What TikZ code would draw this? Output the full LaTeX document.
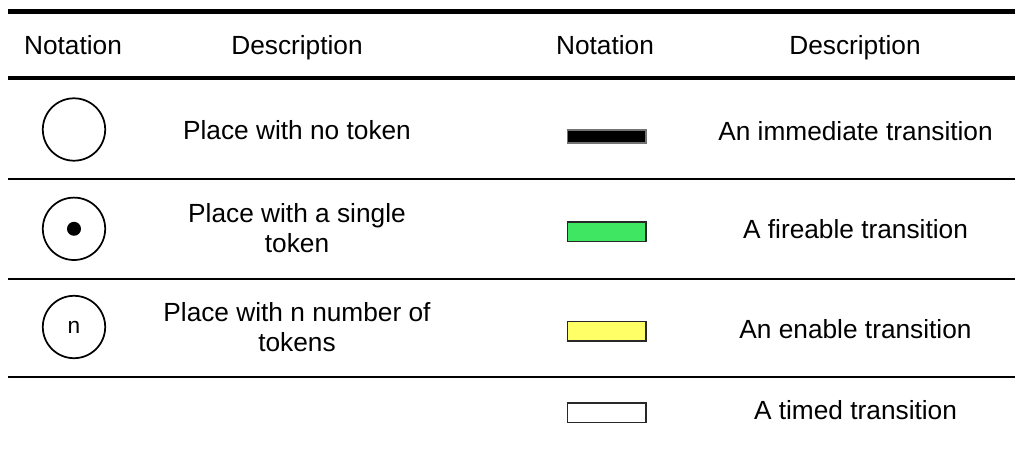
\documentclass[tikz,border=0pt]{standalone}
\usepackage{fontspec}
\setmainfont{Liberation Sans}
\definecolor{fireg}{RGB}{62,230,98}
\definecolor{enabley}{RGB}{255,255,102}
\definecolor{edgegray}{RGB}{40,40,40}
\begin{document}
\begin{tikzpicture}[x=0.75pt,y=-0.75pt,
  txt/.style={font=\fontsize{19.7}{22.5}\selectfont, inner sep=0pt, anchor=base, align=center},
  thickrule/.style={line width=3.3pt},
  thinrule/.style={line width=1.5pt},
  place/.style={circle, draw, line width=1.3pt, minimum size=46.8pt, inner sep=0pt,
                font=\fontsize{17}{20}\selectfont},
  token/.style={circle, fill=black, minimum size=10.5pt, inner sep=0pt},
  trans/.style={rectangle, draw=edgegray, line width=1.2pt, minimum width=58.9pt,
                minimum height=14.6pt, inner sep=0pt},
]
\useasboundingbox (0,0) rectangle (1015,452);

% table rules
\coordinate (r0l) at (8,11.5);   \coordinate (r0r) at (1015,11.5);
\coordinate (r1l) at (8,78.3);   \coordinate (r1r) at (1015,78.3);
\coordinate (r2l) at (8,179);    \coordinate (r2r) at (1015,179);
\coordinate (r3l) at (8,279);    \coordinate (r3r) at (1015,279);
\coordinate (r4l) at (8,377.5);  \coordinate (r4r) at (1015,377.5);
\draw[thickrule] (r0l) -- (r0r);
\draw[thickrule] (r1l) -- (r1r);
\draw[thinrule] (r2l) -- (r2r);
\draw[thinrule] (r3l) -- (r3r);
\draw[thinrule] (r4l) -- (r4r);

% header
\node[txt] (hnl) at (73,54.3) {Notation};
\node[txt] (hdl) at (297,54.3) {Description};
\node[txt] (hnr) at (605,54.3) {Notation};
\node[txt] (hdr) at (855,54.3) {Description};

% places
\node[place] (p0) at (74,129.5) {};
\node[place] (p1) at (74,228.8) {};
\node[token] (tok) at (p1.center) {};
\node[place] (pn) at (74,327) {n};

% multi-line nodes are placed by the baseline of their last line
\node[txt] (dp0) at (297,140) {Place with no token};
\node[txt] (dp1) at (297,252.7) {Place with a single\\token};
\node[txt] (dpn) at (297,351.5) {Place with n number of\\tokens};

% transitions
\node[trans, fill=black, draw=black!55, minimum height=9.8pt] (t0) at (606.7,136.3) {};
\node[trans, fill=fireg] (t1) at (606.7,231.7) {};
\node[trans, fill=enabley] (t2) at (606.7,331.2) {};
\node[trans, fill=white] (t3) at (606.7,412.8) {};

\node[txt] (dt0) at (855.5,141) {An immediate transition};
\node[txt] (dt1) at (855.5,238.3) {A fireable transition};
\node[txt] (dt2) at (855.5,338.3) {An enable transition};
\node[txt] (dt3) at (855.5,420) {A timed transition};
\end{tikzpicture}
\end{document}
